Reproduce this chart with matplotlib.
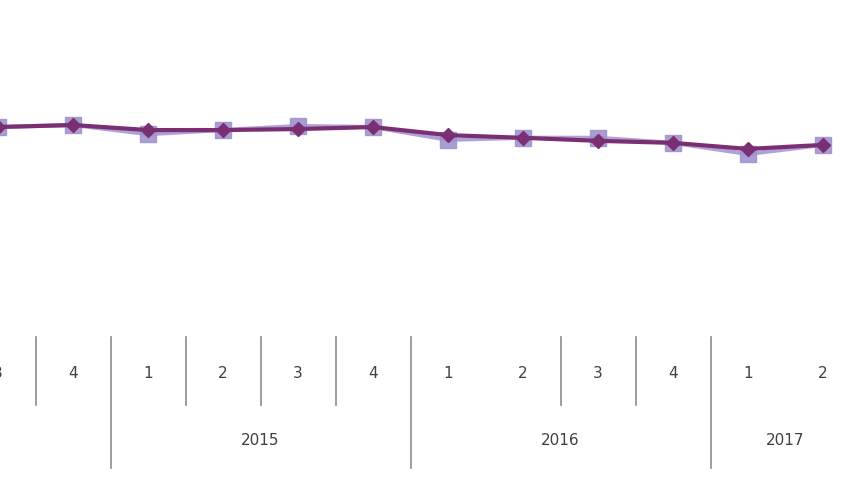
import numpy as np
from matplotlib import pyplot as plt
from matplotlib import transforms

# quarters shown (left edge of the chart is cut off at 2014 Q3)
quarters = ['3', '4', '1', '2', '3', '4', '1', '2', '3', '4', '1', '2']
years = ['2015', '2016', '2017']
year_first_idx = [2, 6, 10]       # index of Q1 for each year
year_len = [4, 4, 2]

# series values (arbitrary units)
series_light = [62.3, 62.9, 60.2, 61.4, 62.6, 62.3, 58.5, 59.1, 59.1, 57.6, 54.3, 57.0]
series_dark = [62.3, 62.9, 61.4, 61.4, 61.7, 62.3, 59.9, 59.1, 58.2, 57.6, 55.8, 57.0]

# separators visible in the original (short = quarter, long = year)
short_seps = [0.5, 2.5, 3.5, 4.5, 7.5, 8.5]
long_seps = [1.5, 5.5, 9.5]

fig = plt.figure(figsize=(8.6, 4.8), dpi=100)
ax = fig.add_axes([0, 0.298, 1, 0.702])

x = np.arange(len(quarters))
ax.plot(x, series_light, color='#a898d4', lw=3, marker='s', ms=11,
        markerfacecolor='#a093cf', markeredgecolor='#a093cf', alpha=0.9)
ax.plot(x, series_dark, color='#7a2f72', lw=3, marker='D', ms=7,
        markerfacecolor='#7a2f72', markeredgecolor='#7a2f72')

ax.set_xlim(2 / 75, 2 / 75 + 860 / 75)
ax.set_ylim(0, 100)
ax.axis('off')

trans = transforms.blended_transform_factory(ax.transData, ax.transAxes)
for s in short_seps:
    ax.plot([s, s], [0, -0.202], color='#8c8c8c', lw=1.2, transform=trans, clip_on=False)
for s in long_seps:
    ax.plot([s, s], [0, -0.389], color='#8c8c8c', lw=1.2, transform=trans, clip_on=False)

for i, q in enumerate(quarters):
    ax.text(i, -0.107, q, transform=trans, ha='center', va='center',
            fontsize=11, color='#404040')
for y, start, n in zip(years, year_first_idx, year_len):
    ax.text(start + (n - 1) / 2, -0.306, y, transform=trans, ha='center', va='center',
            fontsize=11, color='#404040')

plt.savefig('out.png', dpi=100)
plt.close()
